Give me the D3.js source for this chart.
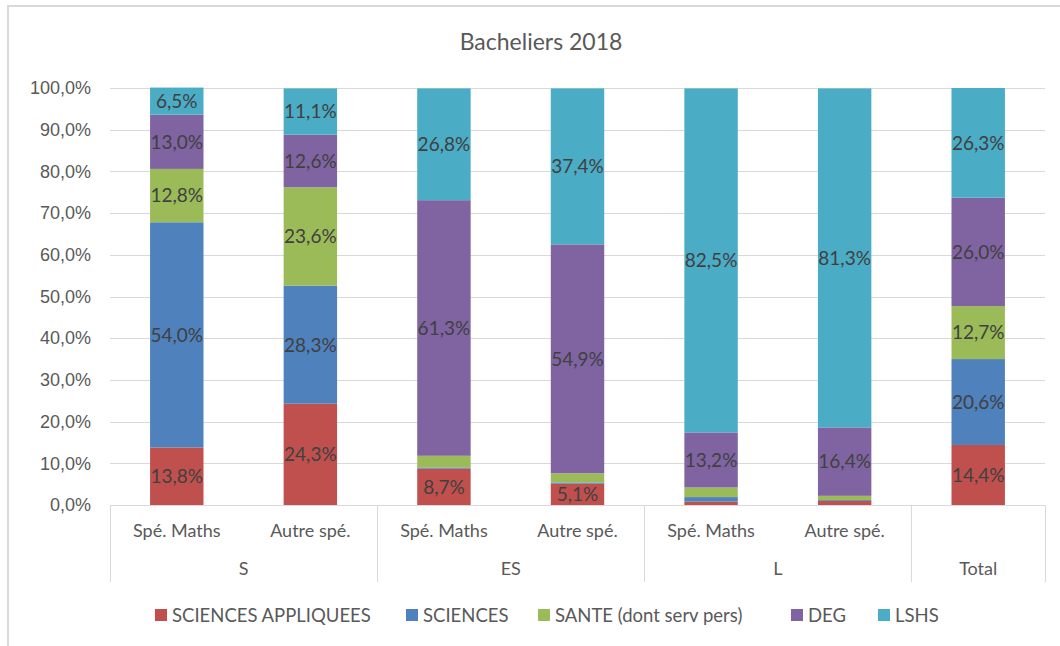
<!DOCTYPE html>
<html>
<head>
<meta charset="utf-8">
<script src="https://cdn.jsdelivr.net/npm/d3@7"></script>
<style>
  body { margin: 0; background: #fff; }
  svg { font-family: Lato, "Open Sans", sans-serif; }
</style>
</head>
<body>
<div id="chart"></div>
<script>
// bars, left to right
var categories = ['Spé. Maths', 'Autre spé.', 'Spé. Maths', 'Autre spé.', 'Spé. Maths', 'Autre spé.', ''];
var groups = ['S', 'S', 'ES', 'ES', 'L', 'L', 'Total'];

var seriesNames = ['SCIENCES APPLIQUEES', 'SCIENCES', 'SANTE (dont serv pers)', 'DEG', 'LSHS'];
var sciencesAppliquees = [13.8, 24.3, 8.7, 5.1, 0.8, 1.0, 14.4];
var sciences           = [54.0, 28.3, 0.3, 0.3, 1.1, 0.2, 20.6];
var sante              = [12.8, 23.6, 2.8, 2.2, 2.3, 1.0, 12.7];
var deg                = [13.0, 12.6, 61.3, 54.9, 13.2, 16.4, 26.0];
var lshs               = [6.5, 11.1, 26.8, 37.4, 82.5, 81.3, 26.3];
var yTicks = [0, 10, 20, 30, 40, 50, 60, 70, 80, 90, 100];

var colors = ['#C0504D', '#4F81BD', '#9BBB59', '#8064A2', '#4BACC6'];
var seriesValues = [sciencesAppliquees, sciences, sante, deg, lshs];

var width = 1060, height = 646;
var plotLeft = 110, plotRight = 1045, plotTop = 88, plotBottom = 505;

var svg = d3.select('#chart').append('svg')
  .attr('width', width)
  .attr('height', height);

// chart border (only top and left edges fall inside the picture)
svg.append('rect')
  .attr('x', 8).attr('y', 6).attr('width', 1100).attr('height', 700)
  .attr('fill', 'none').attr('stroke', '#d9d9d9').attr('stroke-width', 2);

svg.append('text')
  .attr('x', 541).attr('y', 50)
  .attr('text-anchor', 'middle')
  .attr('fill', '#595959')
  .style('font-size', '23px')
  .text('Bacheliers 2018');

var x = d3.scaleBand()
  .domain(d3.range(categories.length))
  .range([plotLeft, plotRight])
  .paddingInner(0.6)
  .paddingOuter(0.3);

var y = d3.scaleLinear().domain([0, 100]).range([plotBottom, plotTop]);

// gridlines
svg.append('g').selectAll('line').data(yTicks.slice(1)).enter().append('line')
  .attr('x1', plotLeft).attr('x2', plotRight)
  .attr('y1', function (d) { return Math.round(y(d)) + 0.5; })
  .attr('y2', function (d) { return Math.round(y(d)) + 0.5; })
  .attr('stroke', '#d9d9d9').attr('stroke-width', 1);

// y axis labels
var yAxis = d3.axisLeft(y).tickValues(yTicks).tickSize(0).tickPadding(0)
  .tickFormat(function (d) { return d.toFixed(1).replace('.', ',') + '%'; });
var gy = svg.append('g').attr('transform', 'translate(' + (plotLeft - 19) + ',0)').call(yAxis);
gy.select('.domain').remove();
gy.selectAll('text').attr('fill', '#595959').style('font-size', '18px');

// stacked segments
var rows = categories.map(function (c, i) {
  var r = { i: i };
  seriesNames.forEach(function (s, k) { r[s] = seriesValues[k][i]; });
  return r;
});
var stacked = d3.stack().keys(seriesNames)(rows);

var layers = svg.append('g').selectAll('g').data(stacked).enter().append('g')
  .attr('fill', function (d, k) { return colors[k]; });

layers.selectAll('rect').data(function (d) { return d; }).enter().append('rect')
  .attr('x', function (d) { return x(d.data.i); })
  .attr('width', x.bandwidth())
  .attr('y', function (d) { return y(d[1]); })
  .attr('height', function (d) { return y(d[0]) - y(d[1]); });

// data labels (small segments have none)
layers.selectAll('text').data(function (d) { return d; }).enter()
  .filter(function (d) { return d[1] - d[0] >= 5; })
  .append('text')
  .attr('x', function (d) { return x(d.data.i) + x.bandwidth() / 2; })
  .attr('y', function (d) { return y((d[0] + d[1]) / 2); })
  .attr('dy', '0.36em')
  .attr('text-anchor', 'middle')
  .attr('fill', '#404040')
  .style('font-size', '19px')
  .text(function (d) { return (d[1] - d[0]).toFixed(1).replace('.', ',') + '%'; });

// category axis
var axisColor = '#d9d9d9';
svg.append('line')
  .attr('x1', plotLeft).attr('x2', plotRight).attr('y1', plotBottom + 0.5).attr('y2', plotBottom + 0.5)
  .attr('stroke', axisColor);

var groupNames = [];
groups.forEach(function (g) { if (groupNames.indexOf(g) < 0) groupNames.push(g); });
var gap = (x.step() - x.bandwidth()) / 2;
var groupSpans = groupNames.map(function (g) {
  var idx = d3.range(groups.length).filter(function (i) { return groups[i] === g; });
  return { name: g, x0: x(idx[0]) - gap, x1: x(idx[idx.length - 1]) + x.bandwidth() + gap };
});

var bounds = [plotLeft].concat(groupSpans.map(function (s) { return s.x1; }));
svg.append('g').selectAll('line').data(bounds).enter().append('line')
  .attr('x1', function (d) { return Math.round(d) + 0.5; })
  .attr('x2', function (d) { return Math.round(d) + 0.5; })
  .attr('y1', plotBottom).attr('y2', 582)
  .attr('stroke', axisColor);

svg.append('g').selectAll('text').data(categories).enter().append('text')
  .attr('x', function (d, i) { return x(i) + x.bandwidth() / 2; })
  .attr('y', 537)
  .attr('text-anchor', 'middle')
  .attr('fill', '#595959')
  .style('font-size', '18px')
  .text(function (d) { return d; });

svg.append('g').selectAll('text').data(groupSpans).enter().append('text')
  .attr('x', function (d) { return (d.x0 + d.x1) / 2; })
  .attr('y', 575)
  .attr('text-anchor', 'middle')
  .attr('fill', '#595959')
  .style('font-size', '18px')
  .text(function (d) { return d.name; });

// legend
var legendX = [155, 406, 538, 791, 878];
var legend = svg.append('g').selectAll('g').data(seriesNames).enter().append('g')
  .attr('transform', function (d, k) { return 'translate(' + legendX[k] + ',609)'; });
legend.append('rect')
  .attr('width', 12).attr('height', 12)
  .attr('fill', function (d, k) { return colors[k]; });
legend.append('text')
  .attr('x', 17).attr('y', 6).attr('dy', '0.36em')
  .attr('fill', '#595959')
  .style('font-size', '18.5px')
  .text(function (d) { return d; });
</script>
</body>
</html>
